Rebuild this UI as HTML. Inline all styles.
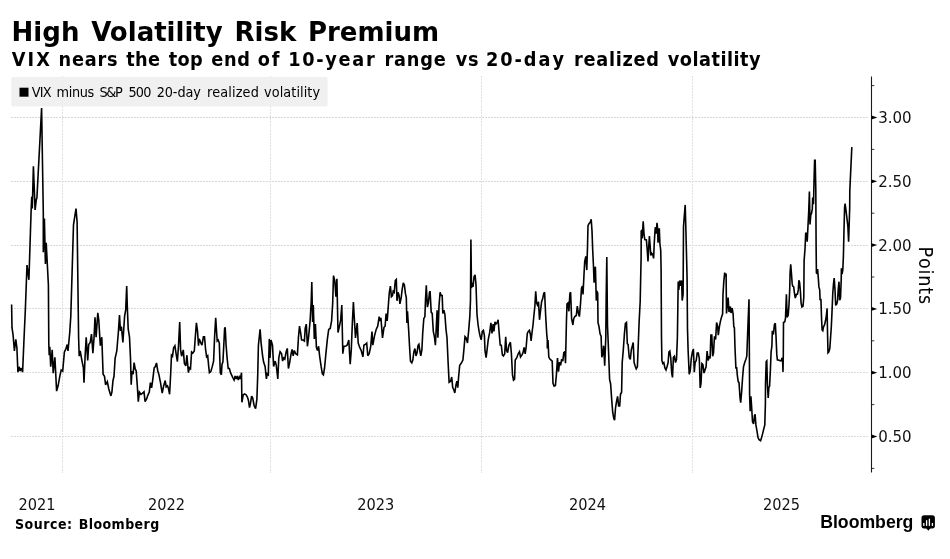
<!DOCTYPE html>
<html lang="en">
<head>
<meta charset="utf-8">
<title>High Volatility Risk Premium</title>
<style>
html,body{margin:0;padding:0;background:#fff;}
body{width:950px;height:559px;overflow:hidden;position:relative;}
svg{display:block;position:absolute;left:0;top:0;will-change:transform;}
.t{font-family:"DejaVu Sans","Liberation Sans",sans-serif;fill:#000;}
.b{font-weight:bold;}
.nk{font-kerning:none;}
.c{font-family:"DejaVu Sans Condensed","DejaVu Sans","Liberation Sans",sans-serif;}
.lb{font-size:16.7px;fill:#111;}
.g{stroke-width:1;stroke-dasharray:2 1;fill:none;shape-rendering:crispEdges;}
.logo{font-family:"Liberation Sans",sans-serif;font-weight:bold;fill:#000;}
</style>
</head>
<body>
<svg width="950" height="559" viewBox="0 0 950 559">
<rect x="0" y="0" width="950" height="559" fill="#ffffff"/>
<g class="g" stroke="#d8d8d8">
<line x1="11" y1="117.5" x2="869" y2="117.5"/>
<line x1="11" y1="181.5" x2="869" y2="181.5"/>
<line x1="11" y1="245.5" x2="869" y2="245.5"/>
<line x1="11" y1="308.5" x2="869" y2="308.5"/>
<line x1="11" y1="372.5" x2="869" y2="372.5"/>
<line x1="11" y1="436.5" x2="869" y2="436.5"/>
</g>
<g class="g" stroke="#e0e0e0">
<line x1="62.5" y1="76" x2="62.5" y2="473"/>
<line x1="270.5" y1="76" x2="270.5" y2="473"/>
<line x1="481.5" y1="76" x2="481.5" y2="473"/>
<line x1="692.5" y1="76" x2="692.5" y2="473"/>
</g>
<rect x="11.3" y="77" width="316.3" height="29.5" rx="2" ry="2" fill="#eeeeee" fill-opacity="0.88"/>
<rect x="19.5" y="87.7" width="9" height="9" fill="#000"/>
<text class="t c nk" y="97.2" font-size="14.3" fill="#111"><tspan x="31.8" letter-spacing="-0.81">VIX</tspan> <tspan x="56.43" letter-spacing="-0.31">minus</tspan> <tspan x="99.56" letter-spacing="-1.39">S&amp;P</tspan> <tspan x="128.51" letter-spacing="-0.81">500</tspan> <tspan x="156.66" letter-spacing="-0.09">20-day</tspan> <tspan x="206.93" letter-spacing="0.12">realized</tspan> <tspan x="264.12" letter-spacing="0.07">volatility</tspan></text>
<text class="t b" x="11.6" y="40.8" font-size="26" word-spacing="2.73">High Volatility Risk Premium</text>
<text class="t c b nk" y="66.3" font-size="19.7"><tspan x="11.71" letter-spacing="2.18">VIX</tspan> <tspan x="58.62" letter-spacing="0.76">nears</tspan> <tspan x="126.37" letter-spacing="0.28">the</tspan> <tspan x="168.77" letter-spacing="0.29">top</tspan> <tspan x="211.24" letter-spacing="0.7">end</tspan> <tspan x="257.84" letter-spacing="1.7">of</tspan> <tspan x="288.31" letter-spacing="1.69">10-year</tspan> <tspan x="384.52" letter-spacing="0.8">range</tspan> <tspan x="455.64" letter-spacing="0.79">vs</tspan> <tspan x="485.91" letter-spacing="1.98">20-day</tspan> <tspan x="574.02" letter-spacing="0.74">realized</tspan> <tspan x="667.84" letter-spacing="0.48">volatility</tspan></text>
<line x1="871.5" y1="76.5" x2="871.5" y2="472.5" stroke="#1a1a1a" stroke-width="1.1"/>
<path d="M871.5 115.6 L877.3 117.5 L871.5 119.4 Z" fill="#000"/>
<text class="t c lb" x="878.2" y="123.0">3.00</text>
<path d="M871.5 179.4 L877.3 181.3 L871.5 183.2 Z" fill="#000"/>
<text class="t c lb" x="878.2" y="186.8">2.50</text>
<path d="M871.5 243.2 L877.3 245.1 L871.5 247.0 Z" fill="#000"/>
<text class="t c lb" x="878.2" y="250.6">2.00</text>
<path d="M871.5 307.0 L877.3 308.9 L871.5 310.8 Z" fill="#000"/>
<text class="t c lb" x="878.2" y="314.4">1.50</text>
<path d="M871.5 370.8 L877.3 372.7 L871.5 374.6 Z" fill="#000"/>
<text class="t c lb" x="878.2" y="378.2">1.00</text>
<path d="M871.5 434.6 L877.3 436.5 L871.5 438.4 Z" fill="#000"/>
<text class="t c lb" x="878.2" y="442.0">0.50</text>
<line x1="871.5" y1="85.6" x2="874.3" y2="85.6" stroke="#1a1a1a" stroke-width="0.9"/>
<line x1="871.5" y1="149.4" x2="874.3" y2="149.4" stroke="#1a1a1a" stroke-width="0.9"/>
<line x1="871.5" y1="213.2" x2="874.3" y2="213.2" stroke="#1a1a1a" stroke-width="0.9"/>
<line x1="871.5" y1="277.0" x2="874.3" y2="277.0" stroke="#1a1a1a" stroke-width="0.9"/>
<line x1="871.5" y1="340.8" x2="874.3" y2="340.8" stroke="#1a1a1a" stroke-width="0.9"/>
<line x1="871.5" y1="404.6" x2="874.3" y2="404.6" stroke="#1a1a1a" stroke-width="0.9"/>
<line x1="871.5" y1="468.4" x2="874.3" y2="468.4" stroke="#1a1a1a" stroke-width="0.9"/>
<text class="t c lb" x="18.4" y="510.2" textLength="37" lengthAdjust="spacingAndGlyphs">2021</text>
<text class="t c lb" x="148.0" y="510.2" textLength="37" lengthAdjust="spacingAndGlyphs">2022</text>
<text class="t c lb" x="357.2" y="510.2" textLength="37" lengthAdjust="spacingAndGlyphs">2023</text>
<text class="t c lb" x="569.0" y="510.2" textLength="37" lengthAdjust="spacingAndGlyphs">2024</text>
<text class="t c lb" x="763.0" y="510.2" textLength="37" lengthAdjust="spacingAndGlyphs">2025</text>
<text class="t c nk" font-size="19.5" letter-spacing="0.85" transform="translate(918.8,246.6) rotate(90)" fill="#111">Points</text>
<text class="t c b nk" y="529.4" font-size="14"><tspan x="15.0" letter-spacing="0.51">Source:</tspan> <tspan x="78.74" letter-spacing="0.41">Bloomberg</tspan></text>
<path d="M11.6,304.5 L12.0,327.7 L13.1,335.1 L14.4,351.0 L15.8,339.4 L16.9,347.8 L17.9,372.1 L19.0,366.8 L20.1,371.0 L21.1,367.9 L22.6,372.1 L23.9,341.5 L25.3,310.8 L27.0,265.0 L28.9,279.8 L31.1,211.1 L31.7,197.4 L32.0,197.0 L32.3,208.5 L33.4,166.2 L35.1,210.0 L36.3,199.5 L36.9,198.0 L41.6,108.1 L43.3,213.0 L43.3,252.3 L44.4,218.5 L45.4,263.9 L46.2,242.8 L48.4,285.0 L48.8,343.6 L49.2,355.2 L49.8,346.7 L50.7,366.8 L52.2,349.9 L53.2,373.1 L54.9,357.3 L56.6,391.1 L58.1,385.8 L59.8,376.3 L61.2,370.0 L62.7,371.0 L64.4,352.0 L65.9,348.9 L67.2,344.6 L68.0,351.0 L69.7,333.0 L70.8,316.1 L73.5,224.8 L76.0,208.6 L77.1,221.7 L78.6,337.2 L79.2,356.2 L80.2,351.0 L81.9,360.5 L83.4,367.9 L84.0,382.6 L85.1,356.2 L86.2,337.2 L87.7,360.5 L88.7,344.6 L90.2,342.5 L91.5,334.1 L92.9,353.1 L94.0,338.3 L95.0,317.2 L96.1,337.2 L97.8,312.9 L98.8,320.3 L100.3,345.7 L101.8,337.2 L103.1,374.2 L104.5,376.3 L105.6,384.8 L107.3,381.6 L108.8,389.0 L110.9,395.9 L111.9,392.1 L113.0,380.5 L114.0,376.3 L115.1,358.4 L116.8,351.0 L118.3,333.0 L119.5,315.1 L120.4,330.9 L121.4,326.7 L122.9,342.5 L124.6,316.1 L125.7,309.8 L126.7,286.1 L127.3,306.6 L128.2,328.8 L129.5,337.2 L130.5,358.4 L131.2,384.8 L132.0,371.0 L133.1,374.2 L134.1,362.6 L135.2,368.9 L136.2,371.0 L137.3,385.8 L138.3,401.6 L139.4,392.1 L140.9,394.3 L142.6,393.2 L144.0,391.7 L145.1,401.6 L146.8,398.5 L147.8,395.3 L149.3,392.1 L150.4,382.6 L151.6,387.9 L152.5,381.6 L154.2,367.9 L155.2,366.8 L156.5,363.0 L157.8,371.0 L158.8,374.2 L160.5,382.6 L162.2,393.2 L163.7,385.8 L165.2,380.5 L166.2,386.9 L167.5,385.8 L168.3,387.9 L169.6,394.3 L170.6,375.2 L171.5,355.2 L172.5,356.2 L173.6,347.8 L174.9,345.7 L176.3,355.2 L177.4,361.5 L178.5,345.7 L179.7,322.0 L180.6,349.9 L181.6,356.2 L183.3,349.9 L184.4,363.6 L185.8,365.8 L186.9,355.2 L188.4,372.7 L189.4,367.9 L190.5,368.9 L191.6,352.0 L192.8,353.1 L194.3,351.0 L195.3,337.2 L196.4,322.9 L197.5,330.9 L198.5,345.7 L199.2,338.9 L200.9,343.1 L202.0,345.2 L203.4,336.8 L204.5,336.8 L205.6,349.5 L206.6,356.9 L207.7,355.8 L208.7,366.4 L209.4,372.7 L210.8,371.6 L212.3,366.4 L213.6,361.1 L214.6,336.8 L215.7,317.8 L216.5,330.5 L217.2,341.0 L218.2,340.0 L219.3,343.1 L220.3,372.7 L221.4,374.8 L222.0,364.3 L222.9,362.1 L223.9,343.1 L224.6,328.4 L225.2,327.3 L226.1,345.2 L227.1,357.9 L228.2,368.5 L229.4,368.5 L230.5,372.7 L232.0,375.9 L233.0,378.0 L234.1,380.1 L235.1,375.9 L236.2,379.0 L237.2,375.9 L238.3,380.1 L239.3,376.9 L240.4,379.0 L241.5,372.7 L241.9,402.3 L243.2,394.9 L244.6,393.9 L246.1,394.9 L247.4,397.0 L248.4,400.2 L249.5,407.6 L250.5,403.4 L251.6,396.0 L252.7,398.1 L254.1,405.5 L255.6,408.6 L256.9,399.1 L257.7,375.9 L258.4,345.2 L260.1,329.4 L261.1,343.1 L262.6,355.8 L263.6,362.1 L265.1,366.4 L266.4,379.0 L267.2,373.8 L268.3,374.8 L269.3,338.9 L270.0,357.9 L271.0,340.0 L272.5,345.2 L273.6,366.4 L275.2,361.1 L276.3,365.3 L277.8,379.0 L278.8,357.9 L280.1,351.6 L281.6,353.7 L282.6,361.1 L283.7,357.9 L284.8,359.0 L286.2,351.6 L287.3,348.4 L288.4,368.5 L289.6,363.2 L291.1,353.7 L292.1,349.5 L293.2,355.8 L294.3,350.5 L295.7,353.7 L297.4,354.8 L298.5,336.8 L299.5,326.2 L300.6,332.6 L301.6,340.0 L303.1,340.0 L304.4,341.0 L305.2,328.4 L306.3,324.1 L307.4,346.3 L308.6,336.8 L310.1,321.0 L311.2,302.0 L311.8,281.9 L312.6,322.0 L313.3,305.1 L314.3,338.9 L315.4,324.1 L316.4,347.4 L317.5,350.5 L318.6,346.3 L319.6,355.8 L321.1,366.4 L322.4,373.8 L323.4,374.8 L324.5,368.5 L325.9,353.7 L327.4,338.9 L328.7,329.4 L330.2,328.4 L331.6,321.0 L332.7,303.0 L333.5,275.6 L334.8,280.8 L335.9,296.7 L336.9,278.7 L338.0,332.6 L339.2,327.3 L340.7,319.9 L341.8,305.1 L342.8,353.7 L343.9,346.3 L345.4,346.3 L347.1,345.2 L348.8,340.0 L350.2,364.3 L351.3,349.5 L352.3,324.1 L353.4,302.0 L354.4,319.9 L355.5,337.9 L357.2,323.1 L358.2,343.1 L359.7,347.4 L361.2,350.5 L362.9,356.9 L363.9,345.2 L365.6,344.2 L366.7,343.1 L367.8,355.8 L369.2,353.7 L370.7,346.3 L372.0,331.5 L372.8,345.2 L374.5,335.8 L376.2,329.4 L377.7,326.2 L379.2,316.7 L380.2,321.0 L380.9,317.8 L382.5,337.9 L384.0,327.3 L385.1,326.2 L386.1,313.6 L387.2,321.0 L388.2,307.2 L389.3,292.5 L390.4,286.1 L391.4,296.7 L392.5,295.6 L393.2,291.2 L394.2,292.3 L395.3,280.7 L396.3,279.6 L397.0,300.8 L398.0,292.3 L399.1,295.5 L399.9,303.9 L401.2,297.6 L402.2,289.1 L403.3,282.8 L404.4,284.9 L405.4,293.4 L406.3,297.6 L406.9,322.9 L407.5,311.3 L408.6,329.3 L409.6,347.5 L410.5,361.2 L411.8,362.9 L412.8,360.1 L413.9,351.7 L414.9,348.5 L416.0,355.9 L417.0,352.7 L418.1,345.3 L418.9,344.3 L420.0,351.7 L420.8,355.9 L421.9,349.6 L422.7,333.5 L423.8,318.7 L424.9,316.6 L425.5,299.7 L426.3,285.3 L427.4,307.1 L428.4,302.9 L429.5,292.3 L430.1,291.2 L431.2,312.4 L432.2,313.4 L433.3,331.4 L434.4,336.6 L435.4,345.1 L436.5,322.9 L437.1,310.2 L437.9,337.7 L439.0,306.0 L440.1,292.3 L441.1,295.5 L442.2,295.5 L442.8,313.4 L443.9,310.2 L444.9,314.5 L446.0,329.3 L447.0,337.7 L448.1,362.2 L449.1,382.3 L450.6,381.2 L451.7,377.0 L452.7,387.6 L453.8,389.7 L454.8,392.9 L455.9,385.5 L456.9,381.2 L457.8,387.6 L458.6,377.0 L459.7,365.4 L461.2,363.3 L462.9,360.1 L463.9,349.6 L465.0,336.6 L466.0,337.7 L467.5,343.0 L468.6,331.4 L469.8,316.6 L470.5,299.7 L470.9,239.5 L471.5,288.1 L472.4,282.8 L473.0,287.0 L474.1,276.5 L475.1,274.8 L476.0,284.9 L477.0,314.5 L478.1,325.0 L479.1,331.4 L480.2,336.6 L481.2,339.8 L482.3,331.4 L483.4,330.3 L484.4,335.6 L485.0,350.6 L486.1,357.6 L487.1,349.6 L488.2,339.8 L489.7,332.4 L490.9,322.9 L492.0,333.5 L493.1,324.0 L493.9,331.4 L495.0,321.9 L496.0,324.0 L497.1,322.9 L498.1,319.8 L499.2,333.5 L500.2,345.1 L501.3,345.3 L502.4,354.9 L503.4,355.9 L504.7,353.8 L505.7,336.9 L506.6,350.6 L507.6,352.7 L508.9,345.3 L510.4,342.2 L511.4,353.8 L512.5,374.9 L513.5,380.2 L514.6,379.1 L515.2,360.1 L516.7,358.0 L518.2,353.8 L519.5,351.7 L520.5,357.0 L522.0,354.9 L523.0,352.7 L524.1,347.5 L525.2,353.8 L526.2,346.4 L527.3,333.5 L528.3,331.4 L529.4,330.3 L530.4,334.5 L531.1,340.9 L531.9,333.5 L533.0,325.0 L534.0,314.5 L534.9,306.0 L535.7,291.2 L536.6,302.9 L537.4,305.0 L538.5,301.8 L539.5,319.8 L540.6,310.2 L541.6,301.8 L542.7,298.6 L543.8,293.4 L544.6,292.3 L545.6,314.5 L546.7,333.5 L547.3,339.8 L547.3,348.5 L548.0,340.1 L548.8,357.0 L549.9,359.1 L551.1,360.1 L552.2,361.2 L553.0,383.4 L554.1,386.1 L555.4,385.5 L556.4,374.9 L557.5,358.0 L558.5,371.7 L559.6,362.2 L560.6,365.4 L561.7,359.1 L562.8,361.2 L563.8,352.7 L564.9,351.7 L565.5,363.3 L566.4,322.9 L567.0,303.9 L568.0,302.9 L568.9,311.3 L569.9,293.4 L570.6,292.3 L571.6,318.7 L572.9,325.0 L573.7,318.7 L574.8,316.6 L576.3,315.5 L577.3,306.0 L578.4,313.4 L579.4,316.6 L580.5,303.9 L581.5,288.1 L582.4,286.0 L583.0,294.4 L583.9,276.5 L584.7,261.7 L585.8,256.4 L586.8,270.1 L587.5,246.9 L588.0,225.6 L589.1,223.5 L590.1,222.5 L591.2,219.3 L592.0,230.9 L592.7,249.9 L593.5,266.8 L594.1,282.6 L594.8,268.9 L595.4,266.8 L596.3,300.6 L596.9,291.1 L597.7,293.2 L598.0,322.5 L599.0,326.7 L600.1,334.1 L601.1,336.2 L601.8,357.3 L602.8,354.1 L603.6,345.7 L604.7,365.8 L605.8,337.2 L606.2,296.4 L606.8,256.9 L607.5,325.6 L608.5,349.9 L609.6,379.5 L610.6,383.7 L611.7,399.6 L612.7,412.2 L613.8,418.6 L614.6,420.1 L615.5,408.0 L616.5,401.7 L617.6,396.4 L618.6,405.9 L619.7,405.9 L620.5,394.3 L621.6,392.2 L622.2,362.6 L623.3,349.9 L624.4,334.1 L625.4,323.5 L626.5,322.5 L627.3,343.6 L628.1,344.6 L629.2,357.3 L630.3,359.4 L631.3,349.9 L632.4,345.7 L633.2,342.5 L634.1,362.6 L635.1,365.8 L636.2,368.9 L637.4,366.8 L638.3,343.6 L639.1,322.5 L640.2,301.3 L641.1,258.0 L641.2,231.0 L641.9,230.2 L642.2,238.5 L643.2,221.2 L644.1,234.8 L644.8,239.6 L646.4,239.9 L647.2,249.6 L648.0,261.5 L648.7,247.5 L649.4,236.0 L650.1,245.4 L650.8,255.4 L651.7,253.3 L652.7,254.4 L653.6,258.4 L654.3,242.2 L655.2,228.0 L655.9,227.7 L656.2,233.8 L657.0,222.8 L657.7,229.6 L658.0,242.8 L659.3,228.2 L659.9,243.8 L660.7,250.0 L661.1,268.9 L661.5,337.2 L661.9,360.5 L662.8,363.6 L663.8,362.6 L664.9,367.9 L666.0,370.0 L667.0,366.8 L668.1,362.6 L668.9,352.0 L669.8,351.0 L670.8,358.4 L671.7,373.1 L672.5,377.4 L673.4,357.3 L674.4,356.2 L675.5,362.6 L676.5,359.4 L677.4,337.2 L678.2,281.6 L678.8,290.0 L679.7,280.5 L680.7,285.8 L681.6,280.5 L682.2,300.6 L683.1,294.3 L683.5,226.7 L684.3,216.1 L685.2,204.9 L685.8,226.7 L686.6,258.4 L687.1,279.5 L687.5,328.8 L688.1,349.9 L689.2,374.2 L690.2,371.0 L691.3,358.4 L692.4,352.0 L693.4,348.9 L694.3,372.1 L695.1,362.6 L696.2,360.5 L697.2,353.1 L698.3,353.1 L699.3,358.4 L700.2,387.9 L701.0,383.7 L701.9,363.6 L702.9,364.7 L704.0,373.1 L705.0,370.0 L706.1,366.8 L707.1,351.0 L708.2,360.5 L709.2,356.2 L710.1,358.4 L710.9,335.1 L711.8,335.1 L712.6,356.2 L713.5,353.1 L714.5,336.2 L715.6,339.4 L716.6,322.5 L717.7,326.7 L718.3,335.1 L719.4,326.7 L720.4,321.4 L721.5,317.2 L722.6,314.0 L723.0,294.3 L723.8,281.6 L724.7,272.7 L725.5,276.3 L726.1,273.6 L726.5,313.5 L728.1,297.5 L729.0,312.0 L730.3,306.5 L731.0,313.0 L732.2,308.0 L733.1,314.0 L733.8,326.7 L734.4,327.7 L735.0,347.8 L735.9,367.9 L736.7,367.9 L737.3,375.2 L738.2,381.6 L739.0,382.6 L740.1,398.5 L740.7,402.7 L741.6,392.1 L742.6,377.4 L743.5,366.8 L744.7,362.6 L745.8,359.4 L746.8,356.2 L747.9,326.7 L749.0,299.2 L749.4,358.4 L749.6,395.3 L750.2,411.2 L750.9,396.4 L751.7,408.0 L752.5,421.7 L753.6,423.9 L754.5,415.4 L755.1,414.4 L755.9,424.9 L757.0,431.2 L758.0,437.6 L759.1,439.7 L760.6,440.8 L761.6,437.6 L762.7,433.4 L763.7,429.1 L764.8,424.9 L765.4,403.8 L765.5,384.5 L766.2,361.5 L766.8,360.8 L767.4,384.5 L768.2,397.9 L768.9,387.5 L769.6,386.0 L770.4,369.7 L771.1,351.9 L771.9,345.9 L772.3,330.7 L773.4,334.4 L774.4,324.7 L775.3,323.2 L776.0,335.9 L776.8,354.9 L777.4,360.0 L778.6,360.0 L780.0,360.8 L781.2,360.8 L781.8,358.6 L782.3,357.8 L782.7,363.0 L783.0,371.9 L783.3,354.9 L783.5,322.5 L784.8,321.8 L785.5,318.1 L786.4,294.3 L787.2,317.3 L788.2,315.1 L789.0,304.7 L789.7,289.9 L790.1,272.8 L790.7,264.3 L791.5,274.2 L792.2,283.9 L792.7,286.1 L793.7,286.9 L794.4,292.8 L795.3,298.0 L796.4,294.3 L797.4,294.3 L798.3,289.9 L798.9,280.2 L799.6,282.4 L800.4,291.3 L801.1,303.2 L801.9,306.9 L803.0,306.2 L803.8,297.3 L804.1,260.9 L805.0,249.0 L805.7,233.4 L806.5,233.4 L807.2,241.6 L807.8,229.7 L808.7,211.9 L809.4,191.6 L810.0,224.5 L810.8,214.8 L811.5,213.4 L812.3,208.9 L812.7,197.6 L813.5,204.2 L814.2,174.5 L814.6,160.4 L815.2,160.4 L815.8,189.4 L816.1,244.5 L816.4,272.8 L817.2,273.5 L817.6,269.0 L818.4,279.4 L818.9,286.9 L819.7,289.9 L820.1,300.2 L820.9,298.8 L821.6,319.5 L822.1,329.9 L822.8,330.7 L823.5,327.0 L824.6,324.7 L825.6,320.3 L826.4,315.1 L827.1,308.4 L827.5,331.4 L828.0,352.9 L828.7,352.2 L829.8,348.5 L830.5,338.8 L831.3,327.0 L832.0,312.1 L832.8,292.8 L833.5,283.9 L834.2,278.0 L835.0,289.9 L835.7,305.4 L836.8,303.9 L837.6,300.2 L838.2,289.9 L839.0,281.7 L839.7,300.2 L840.5,298.0 L841.2,280.2 L841.4,268.3 L842.1,274.2 L842.8,269.8 L843.4,256.4 L844.0,229.7 L844.6,207.4 L845.1,203.7 L845.8,208.9 L846.9,217.8 L847.9,226.7 L848.6,241.6 L849.1,226.7 L849.7,207.4 L849.8,190.9 L850.9,167.1 L851.8,147.8 L852.5,147.5" fill="none" stroke="#000" stroke-width="1.6" stroke-linejoin="miter" stroke-miterlimit="3" stroke-linecap="butt"/>
<text class="logo" x="820.2" y="528.2" font-size="18" textLength="93.2" lengthAdjust="spacingAndGlyphs">Bloomberg</text>
<g>
<rect x="921.5" y="515.2" width="13.4" height="13.2" rx="2.6" ry="2.6" fill="#000"/>
<path d="M926 528 L930.6 528 L928.3 530.8 Z" fill="#000"/>
<rect x="923.15" y="523.0" width="1.3" height="2.9" fill="#fff"/>
<rect x="925.95" y="520.2" width="1.3" height="5.7" fill="#fff"/>
<rect x="928.75" y="518.7" width="1.3" height="7.2" fill="#fff"/>
<rect x="931.75" y="523.0" width="1.3" height="2.9" fill="#fff"/>
</g>
</svg>
</body>
</html>
